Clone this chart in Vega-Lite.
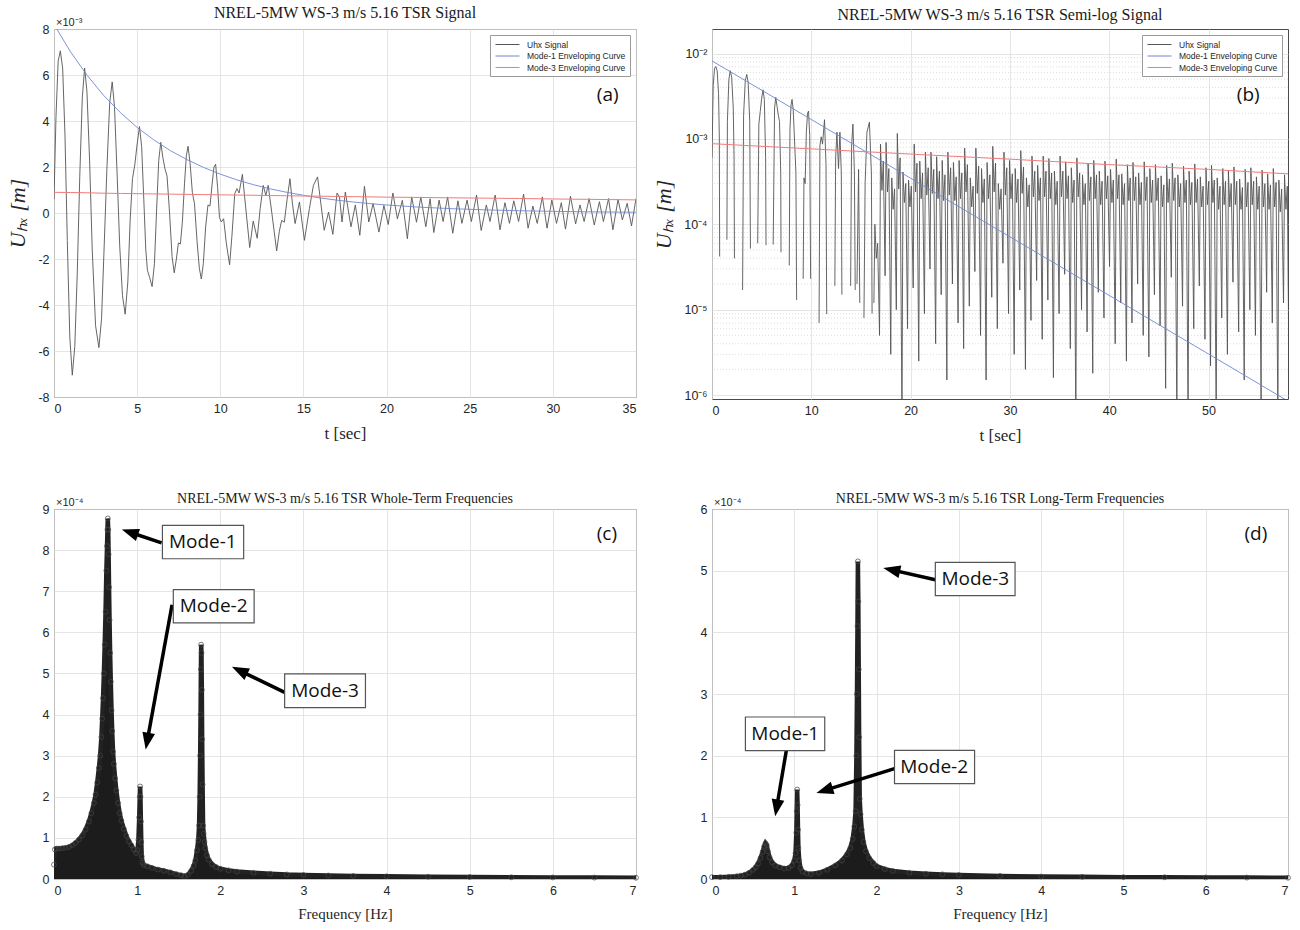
{
  "$schema": "https://vega.github.io/schema/vega-lite/v6.json",
  "background": "white",
  "padding": {"left": 6, "top": 4, "right": 5, "bottom": 2},
  "config": {
    "view": {"stroke": "#4a4a4a", "strokeWidth": 1},
    "axis": {
      "grid": true, "gridColor": "#dedede", "gridWidth": 0.8,
      "domain": false, "ticks": false,
      "labelFont": "Liberation Sans", "labelFontSize": 12.5, "labelColor": "#262626", "labelPadding": 5,
      "titleFont": "Liberation Serif", "titleFontWeight": "normal", "titleColor": "#262626"
    },
    "title": {"font": "Liberation Serif", "fontWeight": "normal", "color": "#1a1a1a", "anchor": "middle"},
    "legend": {
      "orient": "top-right", "offset": 6, "title": null,
      "fillColor": "white", "strokeColor": "#9a9a9a", "padding": 4,
      "symbolType": "M-2.4,0H2.4", "symbolSize": 100, "symbolStrokeWidth": 1, "symbolOffset": 8,
      "labelFont": "Liberation Sans", "labelFontSize": 8.5, "labelColor": "#262626", "labelOffset": 14, "rowPadding": 1.5
    }
  },
  "datasets": {
    "sigA": [
      {"t":0,"u":0.6},{"t":0.12,"u":4.2},{"t":0.25,"u":6.6},{"t":0.38,"u":7.05},{"t":0.52,"u":6.3},{"t":0.66,"u":3.4},{"t":0.8,"u":-1.2},{"t":0.95,"u":-5.4},{"t":1.1,"u":-7.05},{"t":1.25,"u":-5.8},{"t":1.4,"u":-2.6},{"t":1.55,"u":1.6},{"t":1.7,"u":5.0},{"t":1.84,"u":6.3},{"t":1.98,"u":5.3},{"t":2.14,"u":2.3},{"t":2.3,"u":-1.6},{"t":2.5,"u":-4.9},{"t":2.7,"u":-5.85},{"t":2.86,"u":-4.6},{"t":3.0,"u":-1.8},{"t":3.18,"u":1.9},{"t":3.35,"u":4.8},{"t":3.5,"u":5.7},{"t":3.64,"u":4.6},{"t":3.8,"u":1.6},{"t":3.95,"u":-1.4},{"t":4.12,"u":-3.6},{"t":4.28,"u":-4.4},{"t":4.44,"u":-3.0},{"t":4.58,"u":-0.3},{"t":4.72,"u":1.5},{"t":4.86,"u":2.1},{"t":5.0,"u":3.0},{"t":5.14,"u":3.76},{"t":5.27,"u":2.9},{"t":5.4,"u":0.6},{"t":5.52,"u":-1.6},{"t":5.62,"u":-2.5},{"t":5.75,"u":-2.8},{"t":5.9,"u":-3.2},{"t":6.04,"u":-2.2},{"t":6.18,"u":0.3},{"t":6.3,"u":2.3},{"t":6.42,"u":3.07},{"t":6.55,"u":2.4},{"t":6.68,"u":1.9},{"t":6.8,"u":1.6},{"t":6.95,"u":0.0},{"t":7.1,"u":-1.9},{"t":7.23,"u":-2.6},{"t":7.36,"u":-2.0},{"t":7.48,"u":-1.3},{"t":7.6,"u":-1.35},{"t":7.72,"u":-0.4},{"t":7.85,"u":1.3},{"t":7.96,"u":2.5},{"t":8.06,"u":2.9},{"t":8.18,"u":2.2},{"t":8.32,"u":0.9},{"t":8.45,"u":0.4},{"t":8.6,"u":-1.2},{"t":8.74,"u":-2.4},{"t":8.86,"u":-2.87},{"t":8.98,"u":-2.2},{"t":9.12,"u":-0.6},{"t":9.26,"u":0.35},{"t":9.38,"u":0.3},{"t":9.5,"u":1.2},{"t":9.62,"u":2.0},{"t":9.72,"u":2.12},{"t":9.84,"u":1.1},{"t":9.95,"u":-0.2},{"t":10.06,"u":-0.39},{"t":10.2,"u":-0.25},{"t":10.36,"u":-1.3},{"t":10.56,"u":-2.25},{"t":10.7,"u":-1.0},{"t":10.87,"u":0.84},{"t":11.0,"u":1.06},{"t":11.13,"u":0.87},{"t":11.33,"u":1.68},{"t":11.52,"u":0.3},{"t":11.77,"u":-1.5},{"t":11.98,"u":-0.35},{"t":12.22,"u":-1.1},{"t":12.4,"u":0.2},{"t":12.58,"u":1.2},{"t":12.74,"u":0.77},{"t":12.88,"u":1.2},{"t":13.1,"u":0.0},{"t":13.39,"u":-1.65},{"t":13.55,"u":-0.8},{"t":13.69,"u":-0.32},{"t":13.85,"u":-0.4},{"t":14.02,"u":0.6},{"t":14.19,"u":1.49},{"t":14.34,"u":0.4},{"t":14.5,"u":-0.46},{"t":14.76,"u":0.48},{"t":15.06,"u":-1.19},{"t":15.36,"u":0.19},{"t":15.6,"u":1.2},{"t":15.85,"u":1.57},{"t":16.05,"u":0.4},{"t":16.25,"u":-0.75},{"t":16.51,"u":0.04},{"t":16.77,"u":-0.93},{"t":17.02,"u":0.87},{"t":17.17,"u":0.7},{"t":17.32,"u":-0.39},{"t":17.52,"u":0.91},{"t":17.86,"u":-0.6},{"t":18.12,"u":0.35},{"t":18.39,"u":-0.97},{"t":18.67,"u":1.16},{"t":18.93,"u":-0.39},{"t":19.19,"u":0.41},{"t":19.54,"u":-0.83},{"t":19.84,"u":0.33},{"t":20.1,"u":-0.5},{"t":20.38,"u":0.87},{"t":20.65,"u":-0.25},{"t":20.95,"u":0.55},{"t":21.25,"u":-1.12},{"t":21.51,"u":0.7},{"t":21.8,"u":-0.4},{"t":22.06,"u":0.7},{"t":22.36,"u":-0.6},{"t":22.62,"u":0.62},{"t":22.84,"u":-0.85},{"t":23.16,"u":0.56},{"t":23.4,"u":-0.37},{"t":23.67,"u":0.7},{"t":23.98,"u":-0.88},{"t":24.29,"u":0.53},{"t":24.53,"u":-0.45},{"t":24.84,"u":0.56},{"t":25.1,"u":-0.37},{"t":25.41,"u":0.78},{"t":25.69,"u":-0.76},{"t":26.0,"u":0.35},{"t":26.22,"u":-0.37},{"t":26.53,"u":0.78},{"t":26.82,"u":-0.73},{"t":27.12,"u":0.45},{"t":27.39,"u":-0.45},{"t":27.65,"u":0.53},{"t":27.94,"u":-0.37},{"t":28.24,"u":0.82},{"t":28.51,"u":-0.66},{"t":28.8,"u":0.3},{"t":29.06,"u":-0.45},{"t":29.37,"u":0.7},{"t":29.65,"u":-0.66},{"t":29.94,"u":0.56},{"t":30.22,"u":-0.45},{"t":30.51,"u":0.45},{"t":30.76,"u":-0.7},{"t":31.06,"u":0.73},{"t":31.37,"u":-0.47},{"t":31.63,"u":0.35},{"t":31.88,"u":-0.37},{"t":32.18,"u":0.63},{"t":32.49,"u":-0.52},{"t":32.8,"u":0.49},{"t":33.04,"u":-0.37},{"t":33.35,"u":0.63},{"t":33.61,"u":-0.73},{"t":33.92,"u":0.59},{"t":34.18,"u":-0.3},{"t":34.47,"u":0.42},{"t":34.73,"u":-0.56},{"t":35.0,"u":0.63}
    ],
    "envA": [
      {"t":0,"m1":8.2,"m3":0.9},{"t":1,"m1":7.0,"m3":0.89},{"t":2,"m1":5.98,"m3":0.88},{"t":3,"m1":5.1,"m3":0.86},{"t":4,"m1":4.36,"m3":0.85},{"t":5,"m1":3.72,"m3":0.84},{"t":6,"m1":3.18,"m3":0.83},{"t":7,"m1":2.71,"m3":0.82},{"t":8,"m1":2.32,"m3":0.81},{"t":9,"m1":1.98,"m3":0.8},{"t":10,"m1":1.69,"m3":0.79},{"t":11,"m1":1.44,"m3":0.78},{"t":12,"m1":1.23,"m3":0.77},{"t":13,"m1":1.05,"m3":0.76},{"t":14,"m1":0.9,"m3":0.75},{"t":15,"m1":0.77,"m3":0.74},{"t":16,"m1":0.655,"m3":0.73},{"t":17,"m1":0.56,"m3":0.72},{"t":18,"m1":0.478,"m3":0.71},{"t":19,"m1":0.408,"m3":0.7},{"t":20,"m1":0.348,"m3":0.69},{"t":22,"m1":0.254,"m3":0.675},{"t":24,"m1":0.185,"m3":0.66},{"t":26,"m1":0.135,"m3":0.645},{"t":28,"m1":0.098,"m3":0.63},{"t":30,"m1":0.072,"m3":0.61},{"t":32,"m1":0.052,"m3":0.595},{"t":35,"m1":0.032,"m3":0.57}
    ],
    "sigB": [
      {"t":0,"v":6e-4},{"t":0.12,"v":4.2e-3},{"t":0.25,"v":6.6e-3},{"t":0.38,"v":7.05e-3},{"t":0.52,"v":6.3e-3},{"t":0.66,"v":3.4e-3},{"t":0.74,"v":1.0e-3},{"t":0.77,"v":4.2e-5},{"t":1.1,"v":null},
      {"t":1.5,"v":6.6e-5},{"t":1.55,"v":1.6e-3},{"t":1.7,"v":5.0e-3},{"t":1.84,"v":6.3e-3},{"t":1.98,"v":5.3e-3},{"t":2.14,"v":2.3e-3},{"t":2.22,"v":6e-4},{"t":2.26,"v":4e-5},{"t":2.7,"v":null},
      {"t":3.08,"v":1.7e-5},{"t":3.18,"v":1.9e-3},{"t":3.35,"v":4.8e-3},{"t":3.5,"v":5.7e-3},{"t":3.64,"v":4.6e-3},{"t":3.8,"v":1.6e-3},{"t":3.87,"v":5.2e-5},{"t":4.28,"v":null},
      {"t":4.6,"v":6e-5},{"t":4.72,"v":1.5e-3},{"t":4.86,"v":2.1e-3},{"t":5.0,"v":3.0e-3},{"t":5.14,"v":3.76e-3},{"t":5.27,"v":2.9e-3},{"t":5.4,"v":6e-4},{"t":5.44,"v":5.7e-5},{"t":5.9,"v":null},
      {"t":6.16,"v":5.8e-5},{"t":6.3,"v":2.3e-3},{"t":6.42,"v":3.07e-3},{"t":6.55,"v":2.4e-3},{"t":6.68,"v":1.9e-3},{"t":6.8,"v":1.6e-3},{"t":6.92,"v":4e-4},{"t":6.95,"v":4.7e-5},{"t":7.3,"v":null},
      {"t":7.78,"v":3.3e-5},{"t":7.85,"v":1.3e-3},{"t":7.96,"v":2.5e-3},{"t":8.06,"v":2.9e-3},{"t":8.18,"v":2.2e-3},{"t":8.32,"v":9e-4},{"t":8.45,"v":4e-4},{"t":8.52,"v":1.3e-5},{"t":8.86,"v":null},
      {"t":9.18,"v":2.3e-5},{"t":9.26,"v":3.5e-4},{"t":9.38,"v":3.0e-4},{"t":9.5,"v":1.2e-3},{"t":9.62,"v":2.0e-3},{"t":9.72,"v":2.12e-3},{"t":9.84,"v":1.1e-3},{"t":9.93,"v":2.3e-5},{"t":10.5,"v":null},
      {"t":10.78,"v":7e-6},{"t":10.87,"v":8.4e-4},{"t":11.0,"v":1.06e-3},{"t":11.13,"v":8.7e-4},{"t":11.33,"v":1.68e-3},{"t":11.48,"v":5e-4},{"t":11.55,"v":8.9e-6},{"t":11.9,"v":null},
      {"t":12.37,"v":1.9e-5},{"t":12.45,"v":6e-4},{"t":12.58,"v":1.2e-3},{"t":12.74,"v":4.5e-4},{"t":12.88,"v":1.2e-3},{"t":13.02,"v":4e-4},{"t":13.08,"v":1.5e-5},{"t":13.5,"v":null},
      {"t":13.96,"v":1.9e-5},{"t":14.05,"v":8e-4},{"t":14.19,"v":1.49e-3},{"t":14.34,"v":4e-4},{"t":14.42,"v":1.7e-5},{"t":14.5,"v":null},
      {"t":14.6,"v":2e-5},{"t":14.76,"v":4.4e-4},{"t":14.88,"v":1.2e-5},{"t":15.0,"v":null},
      {"t":15.3,"v":8e-6},{"t":15.42,"v":3e-4},{"t":15.6,"v":1.2e-3},{"t":15.85,"v":1.57e-3},{"t":16.05,"v":4e-4},{"t":16.12,"v":9e-6},{"t":16.2,"v":null},
      {"t":16.30,"v":1.2e-5},{"t":16.40,"v":1.0e-4},{"t":16.54,"v":4e-5},{"t":16.68,"v":6e-5},
      {"t":16.87,"v":5e-6},{"t":16.97,"v":8.7e-4},{"t":17.11,"v":2.5e-4},{"t":17.25,"v":5.5e-4},
      {"t":17.43,"v":2.5e-5},{"t":17.53,"v":9.1e-4},{"t":17.67,"v":2.4e-4},{"t":17.81,"v":4.5e-4},
      {"t":18.00,"v":3e-6},{"t":18.10,"v":3.5e-4},{"t":18.24,"v":1.5e-4},{"t":18.38,"v":2.6e-4},
      {"t":18.56,"v":1.0e-5},{"t":18.66,"v":1.16e-3},{"t":18.80,"v":2.6e-4},{"t":18.94,"v":6.0e-4},
      {"t":19.13,"v":5e-7},{"t":19.23,"v":4.1e-4},{"t":19.37,"v":1.8e-4},{"t":19.51,"v":3.0e-4},
      {"t":19.69,"v":6e-6},{"t":19.79,"v":3.3e-4},{"t":19.93,"v":1.6e-4},{"t":20.07,"v":2.8e-4},
      {"t":20.26,"v":1.8e-5},{"t":20.36,"v":8.7e-4},{"t":20.50,"v":2.4e-4},{"t":20.64,"v":5.2e-4},
      {"t":20.82,"v":2.5e-6},{"t":20.92,"v":5.5e-4},{"t":21.06,"v":2.0e-4},{"t":21.20,"v":4.0e-4},
      {"t":21.39,"v":9e-6},{"t":21.49,"v":7.0e-4},{"t":21.63,"v":2.2e-4},{"t":21.77,"v":4.6e-4},
      {"t":21.95,"v":3e-5},{"t":22.05,"v":7.0e-4},{"t":22.19,"v":2.3e-4},{"t":22.33,"v":4.4e-4},
      {"t":22.52,"v":4e-6},{"t":22.62,"v":6.2e-4},{"t":22.76,"v":2.0e-4},{"t":22.90,"v":4.2e-4},
      {"t":23.08,"v":1.5e-5},{"t":23.18,"v":5.6e-4},{"t":23.32,"v":1.9e-4},{"t":23.46,"v":3.8e-4},
      {"t":23.65,"v":1.5e-6},{"t":23.75,"v":7.0e-4},{"t":23.89,"v":2.2e-4},{"t":24.03,"v":4.6e-4},
      {"t":24.21,"v":2.0e-5},{"t":24.31,"v":5.3e-4},{"t":24.45,"v":1.9e-4},{"t":24.59,"v":3.6e-4},
      {"t":24.78,"v":7e-6},{"t":24.88,"v":5.6e-4},{"t":25.02,"v":2.0e-4},{"t":25.16,"v":4.0e-4},
      {"t":25.34,"v":3.5e-6},{"t":25.44,"v":7.8e-4},{"t":25.58,"v":2.4e-4},{"t":25.72,"v":5.0e-4},
      {"t":25.91,"v":1.1e-5},{"t":26.01,"v":3.5e-4},{"t":26.15,"v":1.6e-4},{"t":26.29,"v":2.8e-4},
      {"t":26.47,"v":2.8e-5},{"t":26.57,"v":7.8e-4},{"t":26.71,"v":2.3e-4},{"t":26.85,"v":4.8e-4},
      {"t":27.04,"v":5e-6},{"t":27.14,"v":4.5e-4},{"t":27.28,"v":1.8e-4},{"t":27.42,"v":3.4e-4},
      {"t":27.60,"v":1.5e-6},{"t":27.70,"v":5.3e-4},{"t":27.84,"v":2.0e-4},{"t":27.98,"v":3.8e-4},
      {"t":28.17,"v":1.4e-5},{"t":28.27,"v":8.2e-4},{"t":28.41,"v":2.4e-4},{"t":28.55,"v":5.2e-4},
      {"t":28.73,"v":6e-6},{"t":28.83,"v":3.0e-4},{"t":28.97,"v":1.5e-4},{"t":29.11,"v":2.6e-4},
      {"t":29.30,"v":3.5e-5},{"t":29.40,"v":7.0e-4},{"t":29.54,"v":2.2e-4},{"t":29.68,"v":4.6e-4},
      {"t":29.86,"v":9e-6},{"t":29.96,"v":5.6e-4},{"t":30.10,"v":2.0e-4},{"t":30.24,"v":3.9e-4},
      {"t":30.43,"v":3e-6},{"t":30.53,"v":4.5e-4},{"t":30.67,"v":1.8e-4},{"t":30.81,"v":3.4e-4},
      {"t":30.99,"v":1.7e-5},{"t":31.09,"v":7.3e-4},{"t":31.23,"v":2.3e-4},{"t":31.37,"v":4.7e-4},
      {"t":31.56,"v":2e-6},{"t":31.66,"v":3.5e-4},{"t":31.80,"v":1.6e-4},{"t":31.94,"v":2.9e-4},
      {"t":32.12,"v":7.5e-6},{"t":32.22,"v":6.3e-4},{"t":32.36,"v":2.1e-4},{"t":32.50,"v":4.2e-4},
      {"t":32.69,"v":2.2e-5},{"t":32.79,"v":4.9e-4},{"t":32.93,"v":1.9e-4},{"t":33.07,"v":3.5e-4},
      {"t":33.25,"v":4.5e-6},{"t":33.35,"v":6.3e-4},{"t":33.49,"v":2.1e-4},{"t":33.63,"v":4.2e-4},
      {"t":33.82,"v":1.3e-5},{"t":33.92,"v":5.9e-4},{"t":34.06,"v":2.0e-4},{"t":34.20,"v":4.0e-4},
      {"t":34.38,"v":1.6e-6},{"t":34.48,"v":4.2e-4},{"t":34.62,"v":1.7e-4},{"t":34.76,"v":3.2e-4},
      {"t":34.95,"v":9e-6},{"t":35.05,"v":6.3e-4},{"t":35.19,"v":2.1e-4},{"t":35.33,"v":4.2e-4},
      {"t":35.51,"v":2.6e-5},{"t":35.61,"v":5.4e-4},{"t":35.75,"v":2.0e-4},{"t":35.89,"v":3.7e-4},
      {"t":36.08,"v":3.5e-6},{"t":36.18,"v":4.6e-4},{"t":36.32,"v":1.8e-4},{"t":36.46,"v":3.3e-4},
      {"t":36.64,"v":5e-7},{"t":36.74,"v":6.0e-4},{"t":36.88,"v":2.1e-4},{"t":37.02,"v":4.0e-4},
      {"t":37.21,"v":1.0e-5},{"t":37.31,"v":3.8e-4},{"t":37.45,"v":1.7e-4},{"t":37.59,"v":3.0e-4},
      {"t":37.77,"v":5.5e-6},{"t":37.87,"v":5.2e-4},{"t":38.01,"v":1.9e-4},{"t":38.15,"v":3.6e-4},
      {"t":38.34,"v":1.8e-6},{"t":38.44,"v":5.6e-4},{"t":38.58,"v":2.0e-4},{"t":38.72,"v":3.8e-4},
      {"t":38.90,"v":1.6e-5},{"t":39.00,"v":4.2e-4},{"t":39.14,"v":1.7e-4},{"t":39.28,"v":3.2e-4},
      {"t":39.47,"v":8e-6},{"t":39.57,"v":5.5e-4},{"t":39.71,"v":2.0e-4},{"t":39.85,"v":3.7e-4},
      {"t":40.03,"v":3.2e-5},{"t":40.13,"v":4.4e-4},{"t":40.27,"v":1.8e-4},{"t":40.41,"v":3.3e-4},
      {"t":40.60,"v":4e-6},{"t":40.70,"v":5.8e-4},{"t":40.84,"v":2.0e-4},{"t":40.98,"v":3.8e-4},
      {"t":41.16,"v":1.2e-5},{"t":41.26,"v":3.9e-4},{"t":41.40,"v":1.7e-4},{"t":41.54,"v":3.0e-4},
      {"t":41.73,"v":2.5e-6},{"t":41.83,"v":5.0e-4},{"t":41.97,"v":1.9e-4},{"t":42.11,"v":3.5e-4},
      {"t":42.29,"v":7e-6},{"t":42.39,"v":5.3e-4},{"t":42.53,"v":1.9e-4},{"t":42.67,"v":3.6e-4},
      {"t":42.86,"v":2.0e-5},{"t":42.96,"v":4.0e-4},{"t":43.10,"v":1.7e-4},{"t":43.24,"v":3.1e-4},
      {"t":43.42,"v":5e-6},{"t":43.52,"v":5.4e-4},{"t":43.66,"v":1.9e-4},{"t":43.80,"v":3.6e-4},
      {"t":43.99,"v":2.8e-6},{"t":44.09,"v":4.5e-4},{"t":44.23,"v":1.8e-4},{"t":44.37,"v":3.3e-4},
      {"t":44.55,"v":1.5e-5},{"t":44.65,"v":5.0e-4},{"t":44.79,"v":1.9e-4},{"t":44.93,"v":3.5e-4},
      {"t":45.12,"v":6.5e-6},{"t":45.22,"v":3.7e-4},{"t":45.36,"v":1.6e-4},{"t":45.50,"v":2.9e-4},
      {"t":45.68,"v":1.2e-6},{"t":45.78,"v":4.9e-4},{"t":45.92,"v":1.8e-4},{"t":46.06,"v":3.4e-4},
      {"t":46.25,"v":2.4e-5},{"t":46.35,"v":5.2e-4},{"t":46.49,"v":1.9e-4},{"t":46.63,"v":3.5e-4},
      {"t":46.81,"v":5e-7},{"t":46.91,"v":3.8e-4},{"t":47.05,"v":1.6e-4},{"t":47.19,"v":3.0e-4},
      {"t":47.38,"v":1.1e-5},{"t":47.48,"v":4.8e-4},{"t":47.62,"v":1.8e-4},{"t":47.76,"v":3.3e-4},
      {"t":47.94,"v":5e-7},{"t":48.04,"v":4.2e-4},{"t":48.18,"v":1.7e-4},{"t":48.32,"v":3.1e-4},
      {"t":48.51,"v":6e-6},{"t":48.61,"v":5.1e-4},{"t":48.75,"v":1.8e-4},{"t":48.89,"v":3.4e-4},
      {"t":49.07,"v":1.9e-5},{"t":49.17,"v":3.6e-4},{"t":49.31,"v":1.6e-4},{"t":49.45,"v":2.8e-4},
      {"t":49.64,"v":4.5e-6},{"t":49.74,"v":4.6e-4},{"t":49.88,"v":1.7e-4},{"t":50.02,"v":3.2e-4},
      {"t":50.20,"v":2.2e-6},{"t":50.30,"v":4.9e-4},{"t":50.44,"v":1.8e-4},{"t":50.58,"v":3.3e-4},
      {"t":50.77,"v":5e-7},{"t":50.87,"v":3.5e-4},{"t":51.01,"v":1.5e-4},{"t":51.15,"v":2.8e-4},
      {"t":51.33,"v":8e-6},{"t":51.43,"v":4.5e-4},{"t":51.57,"v":1.7e-4},{"t":51.71,"v":3.2e-4},
      {"t":51.90,"v":3e-6},{"t":52.00,"v":4.2e-4},{"t":52.14,"v":1.6e-4},{"t":52.28,"v":3.0e-4},
      {"t":52.46,"v":2.1e-5},{"t":52.56,"v":4.7e-4},{"t":52.70,"v":1.7e-4},{"t":52.84,"v":3.2e-4},
      {"t":53.03,"v":5.5e-6},{"t":53.13,"v":3.4e-4},{"t":53.27,"v":1.5e-4},{"t":53.41,"v":2.7e-4},
      {"t":53.59,"v":1.5e-6},{"t":53.69,"v":4.4e-4},{"t":53.83,"v":1.6e-4},{"t":53.97,"v":3.1e-4},
      {"t":54.16,"v":1.0e-5},{"t":54.26,"v":4.6e-4},{"t":54.40,"v":1.7e-4},{"t":54.54,"v":3.2e-4},
      {"t":54.72,"v":5e-6},{"t":54.82,"v":3.6e-4},{"t":54.96,"v":1.5e-4},{"t":55.10,"v":2.8e-4},
      {"t":55.29,"v":9e-7},{"t":55.39,"v":4.3e-4},{"t":55.53,"v":1.6e-4},{"t":55.67,"v":3.0e-4},
      {"t":55.85,"v":1.6e-5},{"t":55.95,"v":3.9e-4},{"t":56.09,"v":1.5e-4},{"t":56.23,"v":2.9e-4},
      {"t":56.42,"v":7e-6},{"t":56.52,"v":4.5e-4},{"t":56.66,"v":1.6e-4},{"t":56.80,"v":3.1e-4},
      {"t":56.98,"v":5e-7},{"t":57.08,"v":3.3e-4},{"t":57.22,"v":1.4e-4},{"t":57.36,"v":2.6e-4},
      {"t":57.55,"v":1.2e-5},{"t":57.65,"v":3.8e-4},{"t":57.79,"v":1.5e-4},{"t":57.93,"v":2.8e-4},
      {"t":58.1,"v":2e-6}
    ],
    "envB": [
      {"t":0,"m1":8.2e-3,"m3":8.8e-4},{"t":10,"m1":1.69e-3,"m3":7.65e-4},{"t":20,"m1":3.47e-4,"m3":6.65e-4},{"t":30,"m1":7.14e-5,"m3":5.8e-4},{"t":40,"m1":1.47e-5,"m3":5.0e-4},{"t":50,"m1":3.03e-6,"m3":4.4e-4},{"t":58,"m1":8.5e-7,"m3":3.9e-4}
    ],
    "minorB": [
      {"v":2e-6},{"v":3e-6},{"v":4e-6},{"v":5e-6},{"v":6e-6},{"v":7e-6},{"v":8e-6},{"v":9e-6},
      {"v":2e-5},{"v":3e-5},{"v":4e-5},{"v":5e-5},{"v":6e-5},{"v":7e-5},{"v":8e-5},{"v":9e-5},
      {"v":2e-4},{"v":3e-4},{"v":4e-4},{"v":5e-4},{"v":6e-4},{"v":7e-4},{"v":8e-4},{"v":9e-4},
      {"v":2e-3},{"v":3e-3},{"v":4e-3},{"v":5e-3},{"v":6e-3},{"v":7e-3},{"v":8e-3},{"v":9e-3}
    ],
    "specC": [
      {"f":0,"a":0.35},{"f":0.01,"a":0.72},{"f":0.03,"a":0.74},{"f":0.06,"a":0.74},{"f":0.1,"a":0.75},{"f":0.14,"a":0.76},{"f":0.18,"a":0.78},{"f":0.22,"a":0.82},{"f":0.26,"a":0.88},{"f":0.3,"a":0.96},{"f":0.34,"a":1.06},{"f":0.38,"a":1.2},{"f":0.42,"a":1.4},{"f":0.45,"a":1.6},{"f":0.48,"a":1.85},{"f":0.5,"a":2.05},{"f":0.52,"a":2.35},{"f":0.54,"a":2.7},{"f":0.555,"a":3.0},{"f":0.57,"a":3.45},{"f":0.58,"a":3.9},{"f":0.59,"a":4.4},{"f":0.6,"a":5.0},{"f":0.61,"a":5.7},{"f":0.62,"a":6.5},{"f":0.63,"a":7.5},{"f":0.638,"a":8.1},{"f":0.643,"a":8.5},{"f":0.647,"a":8.77},{"f":0.652,"a":8.5},{"f":0.657,"a":7.9},{"f":0.662,"a":7.1},{"f":0.668,"a":6.3},{"f":0.675,"a":5.5},{"f":0.683,"a":4.8},{"f":0.692,"a":4.1},{"f":0.7,"a":3.6},{"f":0.71,"a":3.1},{"f":0.72,"a":2.8},{"f":0.735,"a":2.45},{"f":0.75,"a":2.15},{"f":0.77,"a":1.85},{"f":0.79,"a":1.6},{"f":0.81,"a":1.42},{"f":0.84,"a":1.22},{"f":0.87,"a":1.05},{"f":0.9,"a":0.92},{"f":0.93,"a":0.82},{"f":0.96,"a":0.72},{"f":0.99,"a":0.63},{"f":1.005,"a":0.7},{"f":1.015,"a":0.95},{"f":1.025,"a":1.5},{"f":1.032,"a":2.0},{"f":1.036,"a":2.25},{"f":1.04,"a":2.0},{"f":1.045,"a":1.4},{"f":1.05,"a":0.9},{"f":1.055,"a":0.55},{"f":1.065,"a":0.4},{"f":1.08,"a":0.34},{"f":1.12,"a":0.31},{"f":1.18,"a":0.27},{"f":1.25,"a":0.23},{"f":1.32,"a":0.2},{"f":1.4,"a":0.16},{"f":1.47,"a":0.12},{"f":1.53,"a":0.09},{"f":1.57,"a":0.07},{"f":1.61,"a":0.1},{"f":1.65,"a":0.2},{"f":1.68,"a":0.32},{"f":1.7,"a":0.45},{"f":1.72,"a":0.7},{"f":1.735,"a":0.95},{"f":1.745,"a":1.3},{"f":1.752,"a":2.0},{"f":1.758,"a":3.0},{"f":1.763,"a":4.0},{"f":1.767,"a":5.1},{"f":1.77,"a":5.7},{"f":1.774,"a":5.5},{"f":1.778,"a":4.6},{"f":1.782,"a":3.4},{"f":1.787,"a":2.3},{"f":1.793,"a":1.3},{"f":1.8,"a":1.1},{"f":1.81,"a":0.9},{"f":1.82,"a":0.75},{"f":1.84,"a":0.58},{"f":1.86,"a":0.47},{"f":1.9,"a":0.36},{"f":1.95,"a":0.29},{"f":2.0,"a":0.25},{"f":2.1,"a":0.21},{"f":2.2,"a":0.18},{"f":2.4,"a":0.15},{"f":2.6,"a":0.13},{"f":2.8,"a":0.11},{"f":3.0,"a":0.1},{"f":3.3,"a":0.085},{"f":3.6,"a":0.075},{"f":4.0,"a":0.065},{"f":4.5,"a":0.055},{"f":5.0,"a":0.048},{"f":5.5,"a":0.042},{"f":6.0,"a":0.038},{"f":6.5,"a":0.034},{"f":7.0,"a":0.03}
    ],
    "specD": [
      {"f":0,"a":0.03},{"f":0.1,"a":0.03},{"f":0.2,"a":0.035},{"f":0.3,"a":0.045},{"f":0.35,"a":0.055},{"f":0.4,"a":0.07},{"f":0.45,"a":0.1},{"f":0.5,"a":0.15},{"f":0.53,"a":0.19},{"f":0.56,"a":0.25},{"f":0.59,"a":0.34},{"f":0.615,"a":0.44},{"f":0.635,"a":0.53},{"f":0.65,"a":0.58},{"f":0.665,"a":0.55},{"f":0.68,"a":0.45},{"f":0.7,"a":0.35},{"f":0.73,"a":0.27},{"f":0.77,"a":0.22},{"f":0.82,"a":0.19},{"f":0.88,"a":0.17},{"f":0.93,"a":0.18},{"f":0.97,"a":0.22},{"f":1.0,"a":0.3},{"f":1.015,"a":0.42},{"f":1.025,"a":0.75},{"f":1.03,"a":1.1},{"f":1.035,"a":1.45},{"f":1.04,"a":1.2},{"f":1.045,"a":0.8},{"f":1.05,"a":0.5},{"f":1.06,"a":0.3},{"f":1.075,"a":0.18},{"f":1.1,"a":0.12},{"f":1.15,"a":0.09},{"f":1.2,"a":0.08},{"f":1.3,"a":0.1},{"f":1.4,"a":0.15},{"f":1.5,"a":0.22},{"f":1.58,"a":0.3},{"f":1.64,"a":0.4},{"f":1.68,"a":0.5},{"f":1.71,"a":0.65},{"f":1.73,"a":0.85},{"f":1.745,"a":1.1},{"f":1.755,"a":2.0},{"f":1.762,"a":3.0},{"f":1.768,"a":4.1},{"f":1.773,"a":5.15},{"f":1.778,"a":4.5},{"f":1.783,"a":3.4},{"f":1.788,"a":2.3},{"f":1.795,"a":1.3},{"f":1.805,"a":1.05},{"f":1.82,"a":0.8},{"f":1.84,"a":0.6},{"f":1.87,"a":0.45},{"f":1.91,"a":0.34},{"f":1.96,"a":0.26},{"f":2.0,"a":0.21},{"f":2.1,"a":0.16},{"f":2.2,"a":0.13},{"f":2.4,"a":0.1},{"f":2.6,"a":0.085},{"f":2.8,"a":0.075},{"f":3.0,"a":0.065},{"f":3.5,"a":0.05},{"f":4.0,"a":0.04},{"f":4.5,"a":0.035},{"f":5.0,"a":0.03},{"f":5.5,"a":0.028},{"f":6.0,"a":0.025},{"f":6.5,"a":0.023},{"f":7.0,"a":0.02}
    ],
    "annC": [
      {"label":"Mode-1","x1":1.304,"x2":2.281,"y1":7.79,"y2":8.6,"tx":1.79,"ty":8.19,"ax":1.294,"ay":8.175,"hx":0.913,"hy":8.434},
      {"label":"Mode-2","x1":1.435,"x2":2.407,"y1":6.23,"y2":7.04,"tx":1.92,"ty":6.63,"ax":1.42,"ay":6.67,"hx":1.121,"hy":3.353},
      {"label":"Mode-3","x1":2.774,"x2":3.746,"y1":4.17,"y2":4.99,"tx":3.26,"ty":4.58,"ax":2.774,"ay":4.54,"hx":2.232,"hy":5.07}
    ],
    "annD": [
      {"label":"Mode-3","x1":2.714,"x2":3.683,"y1":4.595,"y2":5.135,"tx":3.2,"ty":4.865,"ax":2.714,"ay":4.854,"hx":2.183,"hy":5.013},
      {"label":"Mode-1","x1":0.406,"x2":1.37,"y1":2.081,"y2":2.627,"tx":0.89,"ty":2.35,"ax":0.903,"ay":2.08,"hx":0.785,"hy":1.152},
      {"label":"Mode-2","x1":2.218,"x2":3.191,"y1":1.546,"y2":2.086,"tx":2.7,"ty":1.816,"ax":2.218,"ay":1.789,"hx":1.368,"hy":1.436}
    ]
  },
  "resolve": {"scale": {"color": "independent"}, "legend": {"color": "independent"}},
  "columns": 2,
  "spacing": {"row": 47, "column": 11},
  "concat": [
    {
      "title": {"text": "NREL-5MW WS-3 m/s 5.16 TSR Signal", "fontSize": 16, "offset": -4},
      "width": 582, "height": 368,
      "layer": [
        {
          "data": {"name": "sigA"},
          "mark": {"type": "line", "strokeWidth": 0.9, "clip": true},
          "encoding": {
            "x": {"field": "t", "type": "quantitative", "scale": {"domain": [0, 35], "nice": false},
                  "axis": {"values": [0,5,10,15,20,25,30,35], "format": "d", "title": "t [sec]", "titleFontSize": 17, "titlePadding": 11}},
            "y": {"field": "u", "type": "quantitative", "scale": {"domain": [-8, 8], "nice": false},
                  "axis": {"values": [-8,-6,-4,-2,0,2,4,6,8], "labelExpr": "datum.value < 0 ? '-' + abs(datum.value) : '' + datum.value",
                           "title": "Uₕₓ [m]", "titleFontSize": 22, "titleFontStyle": "italic", "titlePadding": 8}},
            "color": {"datum": "Uhx Signal", "type": "nominal",
                      "scale": {"domain": ["Uhx Signal", "Mode-1 Enveloping Curve", "Mode-3 Enveloping Curve"], "range": ["#555555", "#6f87cf", "#f27b7b"]}}
          }
        },
        {
          "data": {"name": "envA"},
          "mark": {"type": "line", "strokeWidth": 0.9, "clip": true},
          "encoding": {
            "x": {"field": "t", "type": "quantitative"},
            "y": {"field": "m1", "type": "quantitative"},
            "color": {"datum": "Mode-1 Enveloping Curve", "type": "nominal"}
          }
        },
        {
          "data": {"name": "envA"},
          "mark": {"type": "line", "strokeWidth": 1, "clip": true},
          "encoding": {
            "x": {"field": "t", "type": "quantitative"},
            "y": {"field": "m3", "type": "quantitative"},
            "color": {"datum": "Mode-3 Enveloping Curve", "type": "nominal"}
          }
        },
        {
          "data": {"values": [{"t": 33.3, "u": 5.14, "label": "(a)"}]},
          "mark": {"type": "text", "font": "Open Sans", "fontSize": 19, "color": "#111111"},
          "encoding": {"x": {"field": "t", "type": "quantitative"}, "y": {"field": "u", "type": "quantitative"}, "text": {"field": "label"}}
        },
        {
          "data": {"values": [{"t": 0, "u": 8, "label": "×10⁻³"}]},
          "mark": {"type": "text", "font": "Liberation Sans", "fontSize": 11, "color": "#262626", "align": "left", "baseline": "bottom", "dx": 2, "dy": -1},
          "encoding": {"x": {"field": "t", "type": "quantitative"}, "y": {"field": "u", "type": "quantitative"}, "text": {"field": "label"}}
        }
      ]
    },
    {
      "title": {"text": "NREL-5MW WS-3 m/s 5.16 TSR Semi-log Signal", "fontSize": 16, "offset": 6},
      "width": 576, "height": 370,
      "layer": [
        {
          "data": {"name": "minorB"},
          "mark": {"type": "rule", "strokeDash": [1, 2], "color": "#d0d0d0", "strokeWidth": 0.7},
          "encoding": {"y": {"field": "v", "type": "quantitative"}}
        },
        {
          "data": {"name": "sigB"},
          "mark": {"type": "line", "strokeWidth": 0.9, "clip": true, "invalid": "break-paths-show-domains"},
          "encoding": {
            "x": {"field": "t", "type": "quantitative", "scale": {"domain": [0, 58], "nice": false},
                  "axis": {"values": [0,10,20,30,40,50], "format": "d", "title": "t [sec]", "titleFontSize": 17, "titlePadding": 11}},
            "y": {"field": "v", "type": "quantitative", "scale": {"type": "log", "domain": [9e-7, 0.0194], "nice": false},
                  "axis": {"values": [1e-6, 1e-5, 1e-4, 1e-3, 1e-2],
                           "labelExpr": "datum.value < 5e-6 ? '10⁻⁶' : datum.value < 5e-5 ? '10⁻⁵' : datum.value < 5e-4 ? '10⁻⁴' : datum.value < 5e-3 ? '10⁻³' : '10⁻²'",
                           "title": "Uₕₓ [m]", "titleFontSize": 22, "titleFontStyle": "italic", "titlePadding": 8}},
            "color": {"datum": "Uhx Signal", "type": "nominal",
                      "scale": {"domain": ["Uhx Signal", "Mode-1 Enveloping Curve", "Mode-3 Enveloping Curve"], "range": ["#555555", "#6f87cf", "#f27b7b"]}}
          }
        },
        {
          "data": {"name": "envB"},
          "mark": {"type": "line", "strokeWidth": 0.9, "clip": true},
          "encoding": {
            "x": {"field": "t", "type": "quantitative"},
            "y": {"field": "m1", "type": "quantitative"},
            "color": {"datum": "Mode-1 Enveloping Curve", "type": "nominal"}
          }
        },
        {
          "data": {"name": "envB"},
          "mark": {"type": "line", "strokeWidth": 1, "clip": true},
          "encoding": {
            "x": {"field": "t", "type": "quantitative"},
            "y": {"field": "m3", "type": "quantitative"},
            "color": {"datum": "Mode-3 Enveloping Curve", "type": "nominal"}
          }
        },
        {
          "data": {"values": [{"t": 54.0, "v": 3.25e-3, "label": "(b)"}]},
          "mark": {"type": "text", "font": "Open Sans", "fontSize": 19, "color": "#111111"},
          "encoding": {"x": {"field": "t", "type": "quantitative"}, "y": {"field": "v", "type": "quantitative"}, "text": {"field": "label"}}
        }
      ]
    },
    {
      "title": {"text": "NREL-5MW WS-3 m/s 5.16 TSR Whole-Term Frequencies", "fontSize": 14, "offset": -9},
      "width": 582, "height": 370,
      "layer": [
        {
          "data": {"name": "specC"},
          "mark": {"type": "area", "color": "#1c1c1c", "clip": true},
          "encoding": {
            "x": {"field": "f", "type": "quantitative", "scale": {"domain": [0, 7], "nice": false},
                  "axis": {"values": [0,1,2,3,4,5,6,7], "format": "d", "title": "Frequency [Hz]", "titleFontSize": 15, "titlePadding": 10}},
            "y": {"field": "a", "type": "quantitative", "scale": {"domain": [0, 9], "nice": false},
                  "axis": {"values": [0,1,2,3,4,5,6,7,8,9], "format": "d", "title": null}}
          }
        },
        {
          "data": {"name": "specC"},
          "mark": {"type": "line", "color": "#222222", "strokeWidth": 4.5, "clip": true},
          "encoding": {"x": {"field": "f", "type": "quantitative"}, "y": {"field": "a", "type": "quantitative"}}
        },
        {
          "data": {"name": "specC"},
          "mark": {"type": "point", "shape": "circle", "filled": false, "color": "#444444", "size": 24, "strokeWidth": 0.7, "opacity": 1},
          "encoding": {"x": {"field": "f", "type": "quantitative"}, "y": {"field": "a", "type": "quantitative"}}
        },
        {
          "data": {"name": "annC"},
          "mark": {"type": "rule", "color": "black", "strokeWidth": 3.5},
          "encoding": {"x": {"field": "ax", "type": "quantitative"}, "y": {"field": "ay", "type": "quantitative"}, "x2": {"field": "hx"}, "y2": {"field": "hy"}}
        },
        {
          "data": {"values": [{"f": 0.913, "a": 8.434}]},
          "mark": {"type": "point", "shape": "M0,-1L-0.75,1L0.75,1Z", "filled": true, "color": "black", "opacity": 1, "size": 289, "angle": 288.7},
          "encoding": {"x": {"field": "f", "type": "quantitative"}, "y": {"field": "a", "type": "quantitative"}}
        },
        {
          "data": {"values": [{"f": 1.121, "a": 3.353}]},
          "mark": {"type": "point", "shape": "M0,-1L-0.75,1L0.75,1Z", "filled": true, "color": "black", "opacity": 1, "size": 289, "angle": 190.3},
          "encoding": {"x": {"field": "f", "type": "quantitative"}, "y": {"field": "a", "type": "quantitative"}}
        },
        {
          "data": {"values": [{"f": 2.232, "a": 5.07}]},
          "mark": {"type": "point", "shape": "M0,-1L-0.75,1L0.75,1Z", "filled": true, "color": "black", "opacity": 1, "size": 289, "angle": 295.8},
          "encoding": {"x": {"field": "f", "type": "quantitative"}, "y": {"field": "a", "type": "quantitative"}}
        },
        {
          "data": {"name": "annC"},
          "mark": {"type": "rect", "fill": "white", "stroke": "#555555", "strokeWidth": 1.2},
          "encoding": {"x": {"field": "x1", "type": "quantitative"}, "x2": {"field": "x2"}, "y": {"field": "y1", "type": "quantitative"}, "y2": {"field": "y2"}}
        },
        {
          "data": {"name": "annC"},
          "mark": {"type": "text", "font": "Open Sans", "fontSize": 19, "color": "#111111"},
          "encoding": {"x": {"field": "tx", "type": "quantitative"}, "y": {"field": "ty", "type": "quantitative"}, "text": {"field": "label"}}
        },
        {
          "data": {"values": [{"f": 6.65, "a": 8.38, "label": "(c)"}]},
          "mark": {"type": "text", "font": "Open Sans", "fontSize": 19, "color": "#111111"},
          "encoding": {"x": {"field": "f", "type": "quantitative"}, "y": {"field": "a", "type": "quantitative"}, "text": {"field": "label"}}
        },
        {
          "data": {"values": [{"f": 0, "a": 9, "label": "×10⁻⁴"}]},
          "mark": {"type": "text", "font": "Liberation Sans", "fontSize": 11, "color": "#262626", "align": "left", "baseline": "bottom", "dx": 2, "dy": -1},
          "encoding": {"x": {"field": "f", "type": "quantitative"}, "y": {"field": "a", "type": "quantitative"}, "text": {"field": "label"}}
        }
      ]
    },
    {
      "title": {"text": "NREL-5MW WS-3 m/s 5.16 TSR Long-Term Frequencies", "fontSize": 14, "offset": -9},
      "width": 576, "height": 370,
      "layer": [
        {
          "data": {"name": "specD"},
          "mark": {"type": "area", "color": "#1c1c1c", "clip": true},
          "encoding": {
            "x": {"field": "f", "type": "quantitative", "scale": {"domain": [0, 7], "nice": false},
                  "axis": {"values": [0,1,2,3,4,5,6,7], "format": "d", "title": "Frequency [Hz]", "titleFontSize": 15, "titlePadding": 10}},
            "y": {"field": "a", "type": "quantitative", "scale": {"domain": [0, 6], "nice": false},
                  "axis": {"values": [0,1,2,3,4,5,6], "format": "d", "title": null}}
          }
        },
        {
          "data": {"name": "specD"},
          "mark": {"type": "line", "color": "#222222", "strokeWidth": 4.5, "clip": true},
          "encoding": {"x": {"field": "f", "type": "quantitative"}, "y": {"field": "a", "type": "quantitative"}}
        },
        {
          "data": {"name": "specD"},
          "mark": {"type": "point", "shape": "circle", "filled": false, "color": "#444444", "size": 24, "strokeWidth": 0.7, "opacity": 1},
          "encoding": {"x": {"field": "f", "type": "quantitative"}, "y": {"field": "a", "type": "quantitative"}}
        },
        {
          "data": {"name": "annD"},
          "mark": {"type": "rule", "color": "black", "strokeWidth": 3.5},
          "encoding": {"x": {"field": "ax", "type": "quantitative"}, "y": {"field": "ay", "type": "quantitative"}, "x2": {"field": "hx"}, "y2": {"field": "hy"}}
        },
        {
          "data": {"values": [{"f": 2.183, "a": 5.013}]},
          "mark": {"type": "point", "shape": "M0,-1L-0.75,1L0.75,1Z", "filled": true, "color": "black", "opacity": 1, "size": 289, "angle": 282.6},
          "encoding": {"x": {"field": "f", "type": "quantitative"}, "y": {"field": "a", "type": "quantitative"}}
        },
        {
          "data": {"values": [{"f": 0.785, "a": 1.152}]},
          "mark": {"type": "point", "shape": "M0,-1L-0.75,1L0.75,1Z", "filled": true, "color": "black", "opacity": 1, "size": 289, "angle": 189.6},
          "encoding": {"x": {"field": "f", "type": "quantitative"}, "y": {"field": "a", "type": "quantitative"}}
        },
        {
          "data": {"values": [{"f": 1.368, "a": 1.436}]},
          "mark": {"type": "point", "shape": "M0,-1L-0.75,1L0.75,1Z", "filled": true, "color": "black", "opacity": 1, "size": 289, "angle": 252.8},
          "encoding": {"x": {"field": "f", "type": "quantitative"}, "y": {"field": "a", "type": "quantitative"}}
        },
        {
          "data": {"name": "annD"},
          "mark": {"type": "rect", "fill": "white", "stroke": "#555555", "strokeWidth": 1.2},
          "encoding": {"x": {"field": "x1", "type": "quantitative"}, "x2": {"field": "x2"}, "y": {"field": "y1", "type": "quantitative"}, "y2": {"field": "y2"}}
        },
        {
          "data": {"name": "annD"},
          "mark": {"type": "text", "font": "Open Sans", "fontSize": 19, "color": "#111111"},
          "encoding": {"x": {"field": "tx", "type": "quantitative"}, "y": {"field": "ty", "type": "quantitative"}, "text": {"field": "label"}}
        },
        {
          "data": {"values": [{"f": 6.61, "a": 5.59, "label": "(d)"}]},
          "mark": {"type": "text", "font": "Open Sans", "fontSize": 19, "color": "#111111"},
          "encoding": {"x": {"field": "f", "type": "quantitative"}, "y": {"field": "a", "type": "quantitative"}, "text": {"field": "label"}}
        },
        {
          "data": {"values": [{"f": 0, "a": 6, "label": "×10⁻⁴"}]},
          "mark": {"type": "text", "font": "Liberation Sans", "fontSize": 11, "color": "#262626", "align": "left", "baseline": "bottom", "dx": 2, "dy": -1},
          "encoding": {"x": {"field": "f", "type": "quantitative"}, "y": {"field": "a", "type": "quantitative"}, "text": {"field": "label"}}
        }
      ]
    }
  ]
}
